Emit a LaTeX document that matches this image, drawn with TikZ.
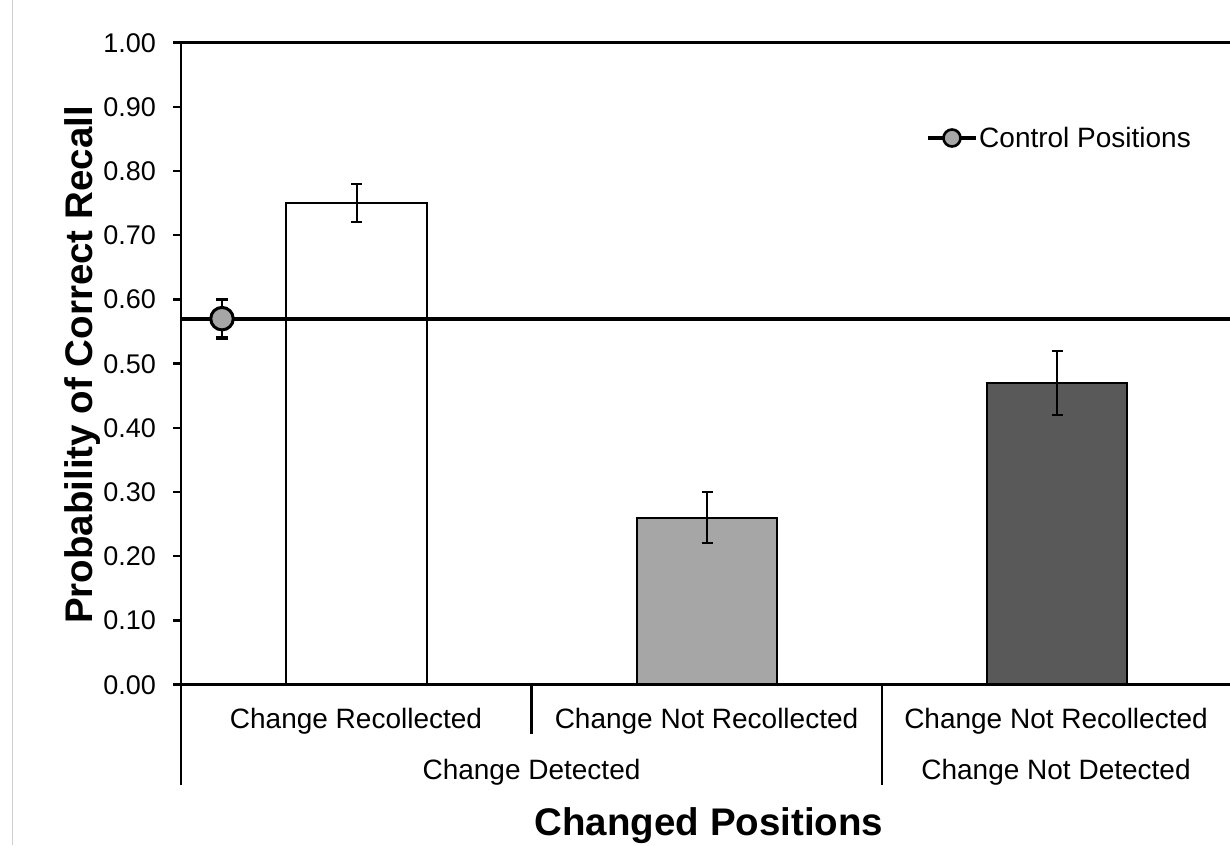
\documentclass[tikz,border=0pt]{standalone}
\usepackage{fontspec}
\setmainfont{Liberation Sans}
\definecolor{midgray}{HTML}{A6A6A6}
\definecolor{darkgray}{HTML}{595959}
\definecolor{edgegray}{HTML}{D0D0D0}
\begin{document}
\begin{tikzpicture}[x=1pt,y=-1pt,
  axisline/.style={line width=2.4pt, black},
  bar/.style={draw=black, line width=2.2pt},
  errbar/.style={line width=2pt, black},
  ticklab/.style={anchor=base east, inner sep=0pt, font=\fontsize{27}{30}\selectfont},
  catlab/.style={anchor=base, inner sep=0pt, font=\fontsize{28}{30}\selectfont},
  title/.style={anchor=base, inner sep=0pt, font=\fontsize{38.5}{40}\selectfont\bfseries},
  ctrlline/.style={line width=4.2pt, black},
]
\useasboundingbox (0,0) rectangle (1230,845);
\fill[white] (0,0) rectangle (1230,845);
\draw[edgegray, line width=1.4pt] (12.5,0) -- (12.5,845);
% y axis ticks and labels
\foreach \v/\t [count=\i] in {0/0.00,0.1/0.10,0.2/0.20,0.3/0.30,0.4/0.40,0.5/0.50,0.6/0.60,0.7/0.70,0.8/0.80,0.9/0.90,1.0/1.00}{
  \pgfmathsetmacro{\yy}{684.5-641.8*\v}
  \draw[axisline] (173,\yy) -- (181,\yy);
  \node[ticklab] (tick\i) at (156,\yy+9.5) {\t};
}
% bars
\draw[bar, fill=white] (286,684.5) rectangle (427,{684.5-641.8*0.75});
\draw[bar, fill=midgray] (637,684.5) rectangle (777,{684.5-641.8*0.26});
\draw[bar, fill=darkgray] (987,684.5) rectangle (1127,{684.5-641.8*0.47});
% error bars
\foreach \x/\lo/\hi in {356.5/0.72/0.78, 707/0.22/0.30, 1057/0.42/0.52}{
  \draw[errbar] (\x,{684.5-641.8*\lo}) -- (\x,{684.5-641.8*\hi});
  \draw[errbar] (\x-5.5,{684.5-641.8*\lo}) -- (\x+5.5,{684.5-641.8*\lo});
  \draw[errbar] (\x-5.5,{684.5-641.8*\hi}) -- (\x+5.5,{684.5-641.8*\hi});
}
% axes frame
\draw[axisline] (173,42.7) -- (1230,42.7);
\draw[axisline] (181,42.7) -- (181,785);
\draw[axisline] (173,684.5) -- (1230,684.5);
\draw[axisline] (531.5,684.5) -- (531.5,734);
\draw[axisline] (882,684.5) -- (882,785);
% control line
\coordinate (cl0) at (181,{684.5-641.8*0.57});
\coordinate (cl1) at (1230,{684.5-641.8*0.57});
\draw[ctrlline] (cl0) -- (cl1);
% control marker with error bar
\draw[line width=2.4pt] (222,{684.5-641.8*0.54}) -- (222,{684.5-641.8*0.60});
\draw[line width=3.6pt] (216,{684.5-641.8*0.54}) -- (228,{684.5-641.8*0.54});
\draw[line width=3.6pt] (216,{684.5-641.8*0.60}) -- (228,{684.5-641.8*0.60});
\node[circle, draw=black, line width=3pt, fill=midgray, minimum size=22.5pt, inner sep=0pt] (ctrl) at (222,{684.5-641.8*0.57}) {};
% legend
\coordinate (lg0) at (928,138);
\coordinate (lg1) at (976,138);
\draw[line width=3.4pt] (lg0) -- (lg1);
\node[circle, draw=black, line width=2.6pt, fill=midgray, minimum size=17pt, inner sep=0pt] (lgmark) at (952,138) {};
\node[anchor=base west, inner sep=0pt, font=\fontsize{28}{30}\selectfont] (lgtext) at (979,148) {Control Positions};
% category labels
\node[catlab] (c1) at (356,728) {Change Recollected};
\node[catlab] (c2) at (706.5,728) {Change Not Recollected};
\node[catlab] (c3) at (1056,728) {Change Not Recollected};
\node[catlab] (g1) at (531.5,779) {Change Detected};
\node[catlab] (g2) at (1056,779) {Change Not Detected};
% titles
\node[title] (xt) at (709,835) {Changed Positions};
\node[title, rotate=90] (yt) at (92,365) {Probability of Correct Recall};
\end{tikzpicture}
\end{document}
